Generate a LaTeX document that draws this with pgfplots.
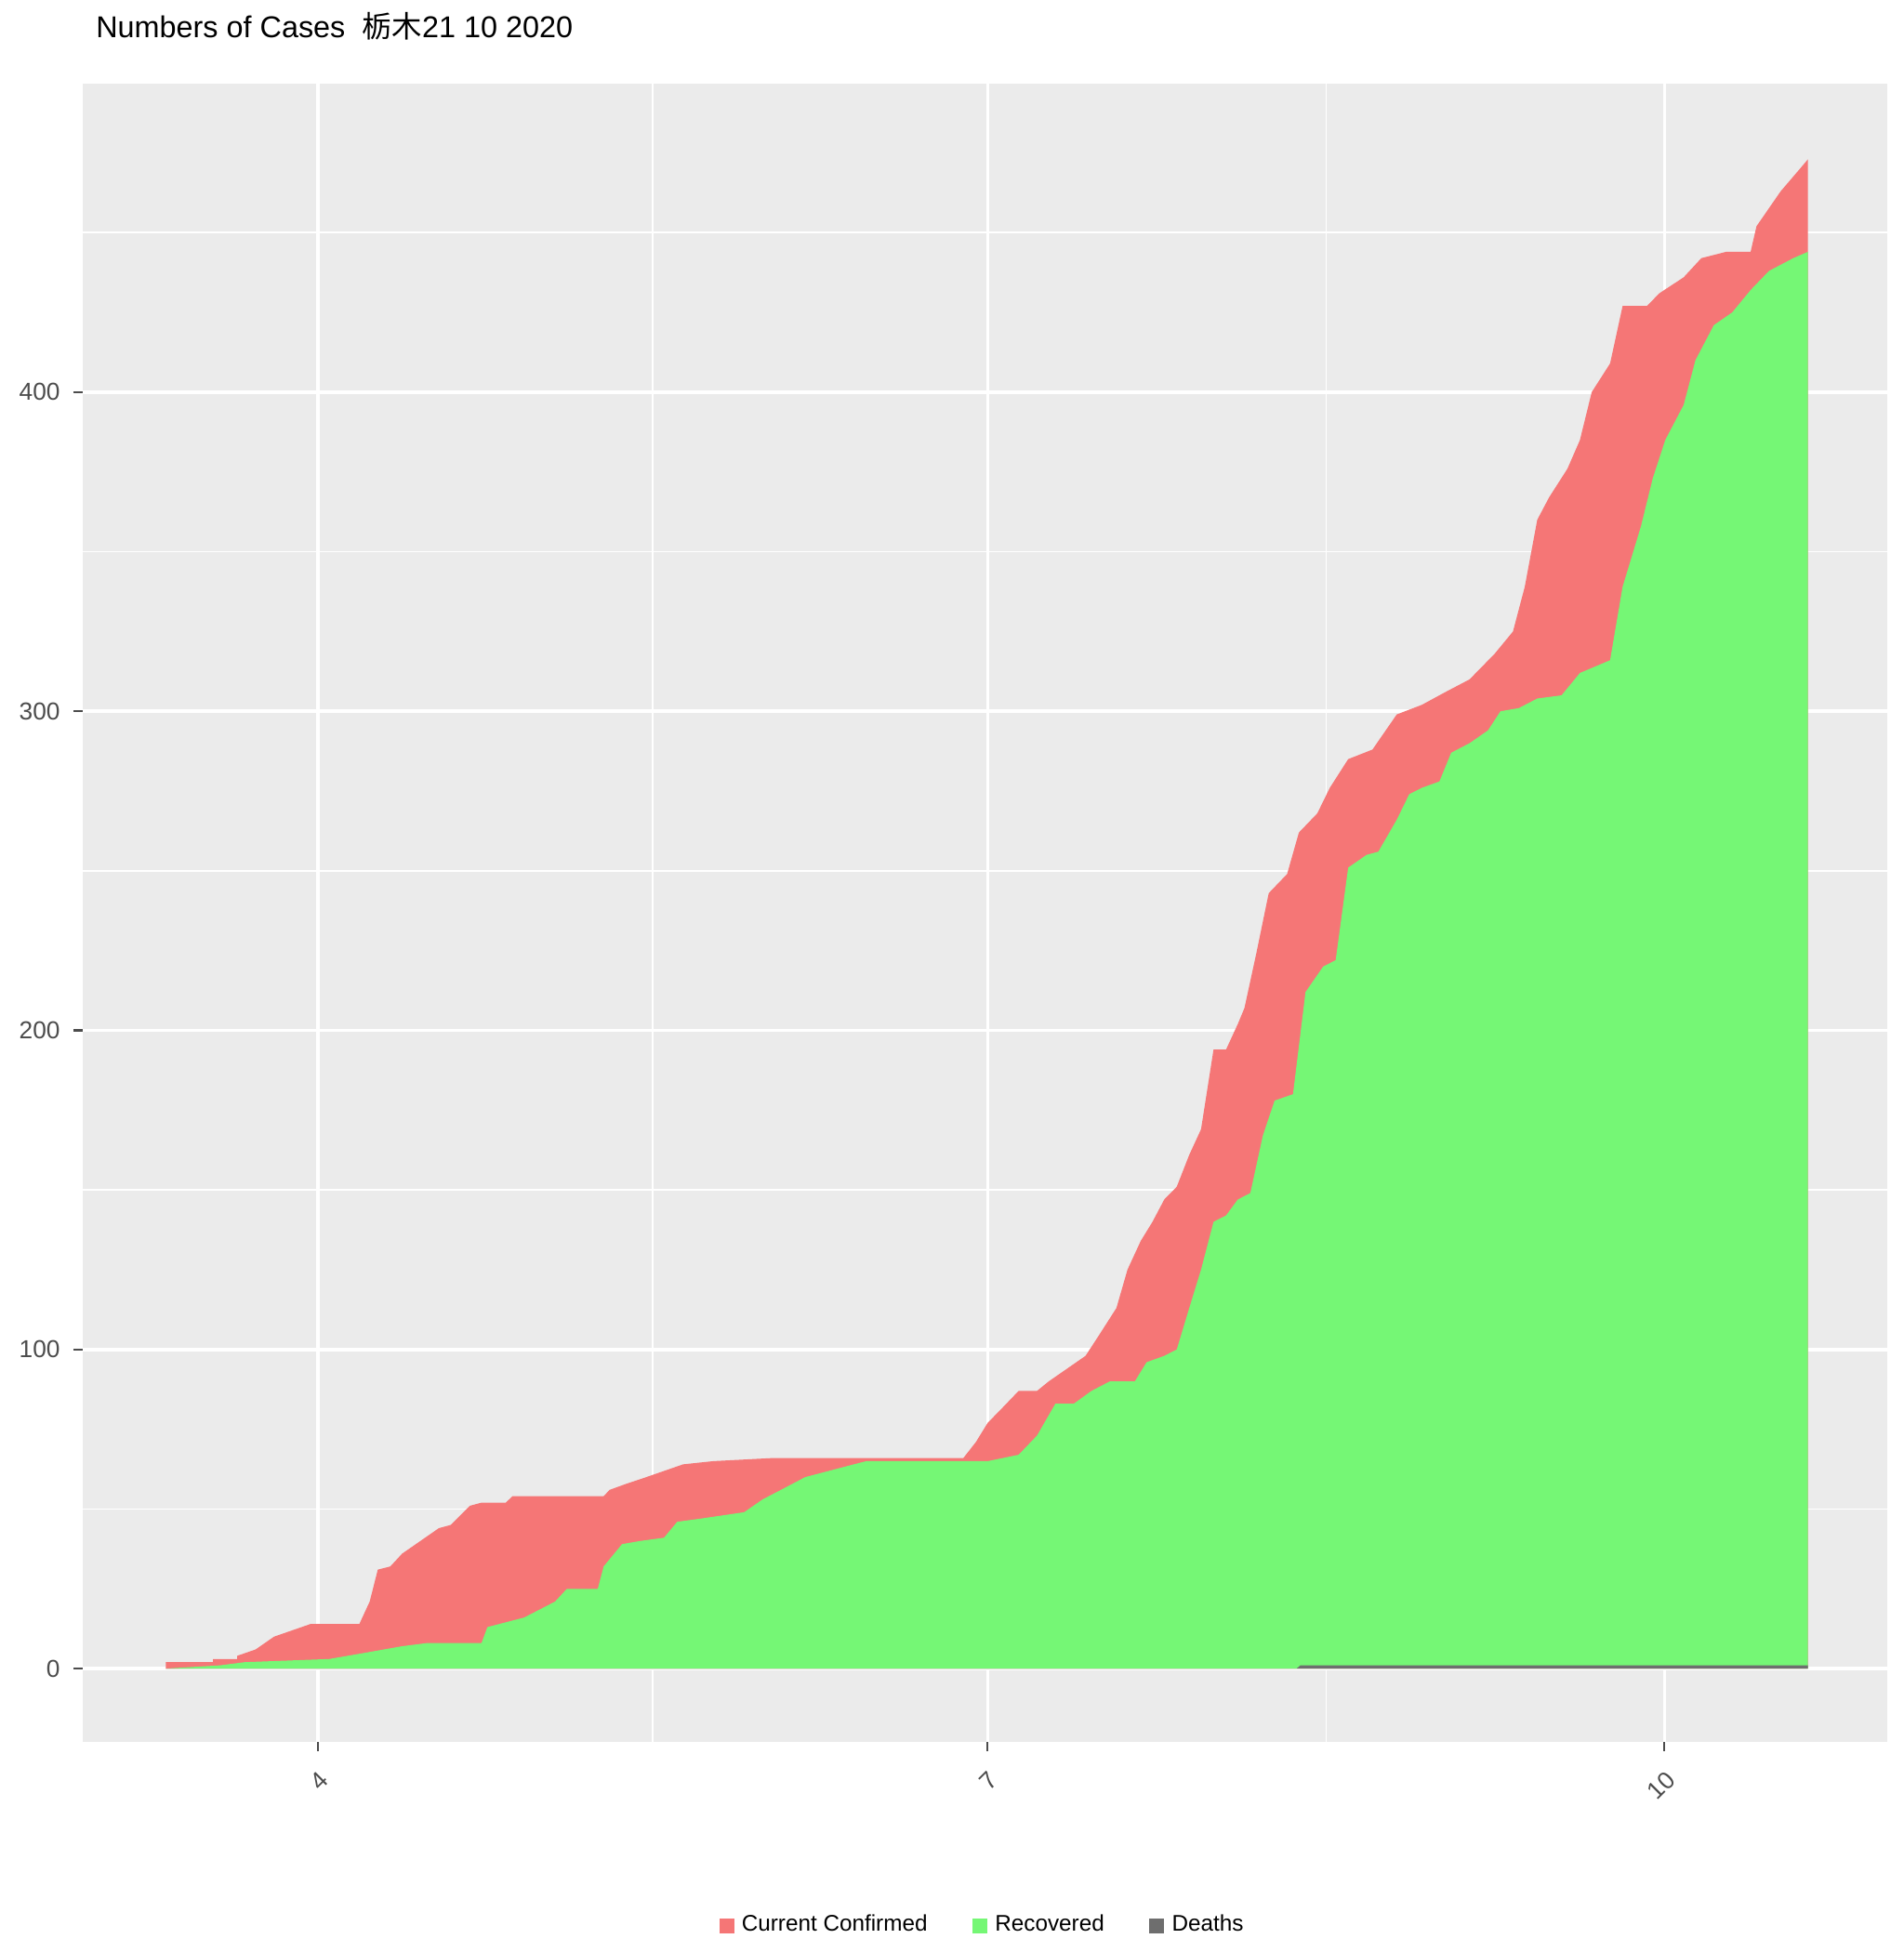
\documentclass[border=0pt]{standalone}
\usepackage{pgfplots}
\pgfplotsset{compat=1.18}
\usepackage{fontspec}
\setmainfont{Liberation Sans}
\newfontfamily\cjk{Noto Sans CJK SC}
\definecolor{panel}{RGB}{235,235,235}
\definecolor{cc}{RGB}{245,118,118}
\definecolor{rec}{RGB}{117,247,117}
\definecolor{dth}{RGB}{110,110,110}
\begin{document}
\begin{tikzpicture}
\begin{axis}[
  scale only axis, width=479.6pt, height=440.7pt,
  xmin=-32, xmax=213.3, ymin=-22.9, ymax=496.7,
  axis background/.style={fill=panel},
  axis line style={draw=none},
  xtick pos=bottom, ytick pos=left,
  xtick={0,91,183}, xticklabels={4,7,10},
  minor xtick={45.5,137},
  ytick={0,100,200,300,400}, minor ytick={50,150,250,350,450},
  grid=both,
  major grid style={white, line width=0.9pt},
  minor grid style={white, line width=0.45pt},
  tick style={gray!60!black, line width=0.5pt},
  major tick length=2.5pt, minor tick length=0pt,
  tick align=outside,
  xticklabel style={rotate=45, anchor=north east, font=\fontsize{6.5}{8}\selectfont, text=black!70},
  yticklabel style={font=\fontsize{6.5}{8}\selectfont, text=black!70},
  /pgf/number format/assume math mode=true,
  title={Numbers of Cases\ \ {\cjk 栃木}21 10 2020},
  title style={at={(0,1)}, anchor=south west, font=\fontsize{8}{10}\selectfont, yshift=2pt},
  legend style={at={(0.5,-0.095)}, anchor=north, draw=none, fill=none, legend columns=3,
    font=\fontsize{6}{8}\selectfont, /tikz/every even column/.append style={column sep=10pt}},
  legend image code/.code={\fill[#1] (0.05cm,-0.07cm) rectangle (0.19cm,0.07cm);},
]
\addplot[fill=cc, draw=none] table {
-20.7 2
-14.3 2
-14.3 3
-11 3
-11 4
-8.5 6
-6 10
-3.5 12
-1 14
5.6 14
7 21
8.1 31
9.8 32
11.4 36
13.9 40
16.4 44
18 45
20.6 51
22.2 52
25.5 52
26.4 54
38.8 54
39.6 56
42 58
44.6 60
47.1 62
49.6 64
53.7 65
62 66
87.7 66
89.4 71
91 77
92.7 81
95.2 87
97.7 87
99.3 90
101.8 94
104.3 98
106 104
108.5 113
110 125
111.8 134
113.4 140
115 147
116.7 151
118.4 161
120 169
121.7 194
123.4 194
125 202
125.9 207
127.5 224
129.2 243
131.7 249
133.3 262
135.8 268
137.5 276
140 285
143.3 288
146.6 299
150 302
153.2 306
156.5 310
159.9 318
162.4 325
164 339
165.7 360
167.3 367
169.8 376
171.5 385
173.1 400
175.6 409
177.3 427
180.6 427
182.3 431
185.6 436
188 442
191.4 444
194.7 444
195.5 452
198.8 463
201.4 470
202.5 473
} \closedcycle;
\addlegendentry{Current Confirmed}
\addplot[fill=rec, draw=none] table {
-20.7 0
-13.4 1
-10 2
1.5 3
6.5 5
11.4 7
14.8 8
22.2 8
23 13
28 16
32.2 21
33.8 25
38 25
38.8 32
41.3 39
43.8 40
47 41
48.8 46
52 47
57.9 49
60.4 53
62.9 56
66.2 60
69.5 62
72.8 64
74.5 65
91 65
95.2 67
97.7 73
100.2 83
102.7 83
105.1 87
107.6 90
111 90
112.6 96
115 98
116.7 100
118.4 113
120 125
121.7 140
123.4 142
125 147
126.7 149
128.4 167
130 178
132.5 180
134.2 212
136.6 220
138.3 222
140 251
142.5 255
144.1 256
146.6 266
148.3 274
150 276
152.4 278
154 287
156.5 290
159 294
160.7 300
163.2 301
165.7 304
169 305
171.5 312
175.6 316
177.3 339
179.8 358
181.4 373
183.1 385
185.6 396
187.2 410
189.7 421
192.2 425
194.7 432
197.2 438
200.5 442
202.5 444
} \closedcycle;
\addlegendentry{Recovered}
\addplot[fill=dth, draw=none] table {
-20.7 0
133 0
133.5 1
202.5 1
} \closedcycle;
\addlegendentry{Deaths}
\end{axis}
\path (current axis.south west) ++(-22pt,-46.7pt) coordinate (bl);
\path (current axis.north east) ++(4.2pt,18.5pt) coordinate (tr);
\useasboundingbox (bl) rectangle (tr);
\end{tikzpicture}
\end{document}
